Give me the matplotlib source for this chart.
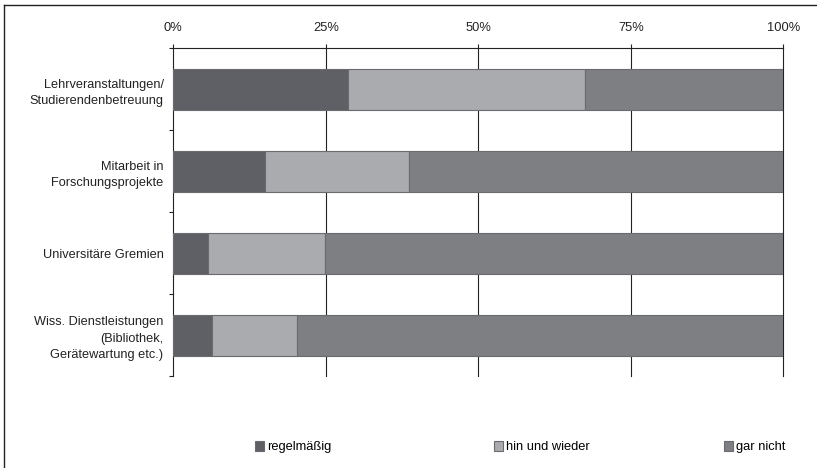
import numpy as np
import matplotlib.pyplot as plt
from matplotlib.lines import Line2D

plt.rcParams['font.family'] = ['Liberation Sans', 'DejaVu Sans']

# Daten (Anteile in %)
kategorien = ["Lehrveranstaltungen/\nStudierendenbetreuung",
              "Mitarbeit in\nForschungsprojekte",
              "Universitäre Gremien",
              "Wiss. Dienstleistungen\n(Bibliothek,\nGerätewartung etc.)"]
regelmaessig = [28.6, 15.0, 5.7, 6.3]
hin_und_wieder = [38.9, 23.6, 19.1, 13.9]
gar_nicht = [32.5, 61.4, 75.2, 79.8]
serien = ["regelmäßig", "hin und wieder", "gar nicht"]
farben = ["#5f6065", "#a9abae", "#7e7f83"]
xticks = [0, 25, 50, 75, 100]

fig = plt.figure(figsize=(8.17, 4.68), dpi=100)
ax = fig.add_axes([173.3 / 817, 1 - 376 / 468, 610 / 817, 328 / 468])

y = np.arange(len(kategorien))
links = np.zeros(len(kategorien))
balken = []
for werte, name, farbe in zip([regelmaessig, hin_und_wieder, gar_nicht], serien, farben):
    b = ax.barh(y, werte, left=links, height=0.5, color=farbe, edgecolor="#6a6b6f",
                linewidth=0.8, label=name, zorder=3)
    balken.append(b)
    links += np.array(werte)

ax.set_xlim(0, 100)
ax.set_ylim(len(kategorien) - 0.5, -0.5)

# Gitterlinien
for t in xticks[1:]:
    ax.axvline(t, color="#222222", linewidth=0.8, zorder=1, clip_on=False)

ax.xaxis.tick_top()
ax.set_xticks(xticks)
ax.set_xticklabels([f"{t}%" for t in xticks], fontsize=9.3, color="#222222")
ax.tick_params(axis="x", length=3, width=0.8, pad=7, colors="#222222")

ax.set_yticks(y)
ax.set_yticklabels(kategorien, fontsize=9.2, color="#222222", linespacing=1.5)
ax.set_yticks(np.arange(len(kategorien) + 1) - 0.5, minor=True)
ax.tick_params(axis="y", which="major", length=0, pad=7)
ax.tick_params(axis="y", which="minor", length=3, width=0.8, colors="#222222")

for s in ["right", "bottom"]:
    ax.spines[s].set_visible(False)
for s in ["top", "left"]:
    ax.spines[s].set_color("#222222")
    ax.spines[s].set_linewidth(0.8)

# Rahmen
fig.add_artist(Line2D([4 / 817, 4 / 817], [0, 1 - 5 / 468], transform=fig.transFigure,
                      color="#222222", linewidth=1))
fig.add_artist(Line2D([4 / 817, 1], [1 - 5 / 468, 1 - 5 / 468], transform=fig.transFigure,
                      color="#222222", linewidth=1))

# Legende: jeder Eintrag einzeln platziert
for b, name, x0 in zip(balken, serien, [255, 494, 724]):
    fig.legend([b], [name], frameon=False, fontsize=9.3, loc="center left",
               bbox_to_anchor=(x0 / 817, 1 - 447 / 468), borderpad=0, borderaxespad=0,
               handlelength=0.7, handleheight=0.9, handletextpad=0.25)

fig.savefig("out.png", dpi=100)
